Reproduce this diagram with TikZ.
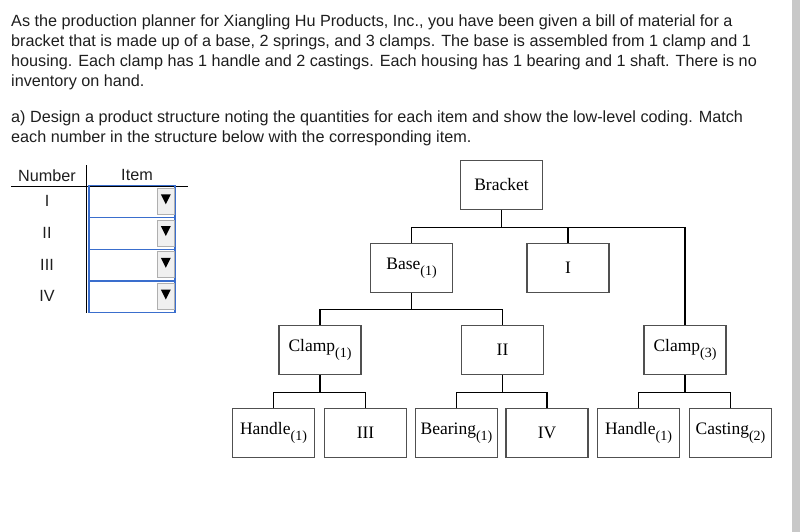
\documentclass[tikz,border=0pt]{standalone}
\usepackage{fontspec}
\setmainfont{Liberation Serif}
\newfontfamily\uifont{Liberation Sans}
\usepackage{tikz}
\definecolor{BoxGray}{RGB}{80,80,80}
\definecolor{TextGray}{RGB}{30,30,30}
\definecolor{PickBlue}{RGB}{58,110,205}
\definecolor{BtnGray}{RGB}{240,240,240}
\definecolor{BtnEdge}{RGB}{175,175,175}
\definecolor{ScrollGray}{RGB}{200,200,200}
\newcommand{\qn}[1]{\raisebox{-0.33em}{\fontsize{14}{14}\selectfont(#1)}}
\tikzset{
  part/.style={draw=BoxGray, line width=1.4pt, minimum width=82pt, minimum height=49pt, inner sep=0pt, font=\fontsize{17.5}{20}\selectfont},
  link/.style={line width=1.2pt},
  ui/.style={font=\uifont\fontsize{16.2}{20}\selectfont, text=TextGray, inner sep=0pt},
  pick/.style={draw=PickBlue, line width=1.4pt, minimum width=86pt, minimum height=31.75pt, inner sep=0pt},
  btn/.style={draw=BtnEdge, fill=BtnGray, line width=0.8pt, minimum width=17pt, minimum height=26pt, inner sep=0pt}
}

\begin{document}
\begin{tikzpicture}[x=1pt, y=-1pt]
      \useasboundingbox (0,0) rectangle (800,532);
      \fill[ScrollGray] (792,0) rectangle (800,532);
      \node[ui, anchor=north west, align=left] (intro) at (11,14.5) {As the production planner for Xiangling Hu Products, Inc., you have been given a bill of material for a\\bracket that is made up of a base, 2 springs, and 3 clamps. The base is assembled from 1 clamp and 1\\housing. Each clamp has 1 handle and 2 castings. Each housing has 1 bearing and 1 shaft. There is no\\inventory on hand.};
      \node[ui, anchor=north west, align=left] (task) at (11,111) {a) Design a product structure noting the quantities for each item and show the low-level coding. Match\\each number in the structure below with the corresponding item.};
      \draw[line width=0.9pt] (11,186) -- (188,186);
      \draw[line width=0.9pt] (86,165) -- (86,313);
      \node[ui] (numhead) at (47,175.5) {Number};
      \node[ui] (itemhead) at (137,175.5) {Item};
      \foreach \k/\r in {0/I,1/II,2/III,3/IV}{
        \node[ui] (num\r) at (47,201+31.75*\k) {\r};
        \node[pick] (pick\r) at (131.8,201.6+31.75*\k) {};
        \node[btn] (btn\r) at (165.8,201.3+31.75*\k) {};
        \fill (btn\r.center) ++(-5,-7) -- ++(10,0) -- ++(-5,10) -- cycle;
      }
      \node[part] (bracket) at (501.5,185) {Bracket};
      \node[part] (base) at (411.5,268) {Base\qn{1}};
      \node[part] (itemI) at (568,268) {I};
      \node[part] (clampL) at (320,350) {Clamp\qn{1}};
      \node[part] (itemII) at (502.5,350) {II};
      \node[part] (clampR) at (685,350) {Clamp\qn{3}};
      \node[part] (handleL) at (273.5,433) {Handle\qn{1}};
      \node[part] (itemIII) at (365.5,433) {III};
      \node[part] (bearing) at (456.5,433) {Bearing\qn{1}};
      \node[part] (itemIV) at (547,433) {IV};
      \node[part] (handleR) at (638.5,433) {Handle\qn{1}};
      \node[part] (casting) at (730.5,433) {Casting\qn{2}};
      \draw[link] (bracket.south) -- ++(0,17) coordinate (j0);
      \draw[link] (base.north) |- (j0) -| (clampR.north);
      \draw[link] (itemI.north) -- (itemI.north |- j0);
      \draw[link] (base.south) -- ++(0,16) coordinate (j1);
      \draw[link] (clampL.north) |- (j1) -| (itemII.north);
      \draw[link] (clampL.south) -- ++(0,17.5) coordinate (j2);
      \draw[link] (handleL.north) |- (j2) -| (itemIII.north);
      \draw[link] (itemII.south) -- ++(0,17.5) coordinate (j3);
      \draw[link] (bearing.north) |- (j3) -| (itemIV.north);
      \draw[link] (clampR.south) -- ++(0,17.5) coordinate (j4);
      \draw[link] (handleR.north) |- (j4) -| (casting.north);
    \end{tikzpicture}
\end{document}
